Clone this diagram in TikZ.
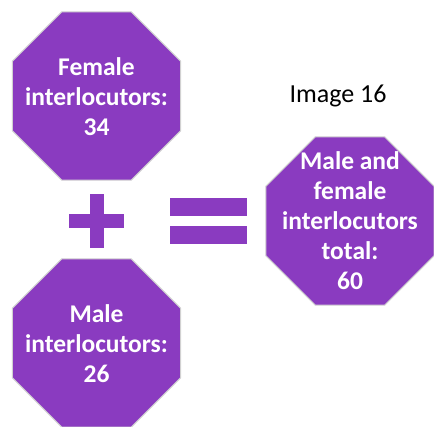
\documentclass[tikz,border=0pt]{standalone}
\usepackage{fontspec}
\setmainfont{Carlito}
\usetikzlibrary{shapes.geometric}
\definecolor{octpurple}{RGB}{138,59,192}

\begin{document}
\begin{tikzpicture}[
    x=1pt, y=-1pt,
    octa/.style={draw=black!18, line width=1pt, fill=octpurple, regular polygon, regular polygon sides=8, minimum size=182pt, inner sep=0pt},
    octtext/.style={align=center, text=white, font=\fontsize{25.5}{30}\selectfont\bfseries},
    bar/.style={fill=octpurple, rectangle, inner sep=0pt}
]
\useasboundingbox (0,0) rectangle (434,426);

% Octagons
\node[octa] (fem) at (96.5,96) {};
\node[octtext] (femtxt) at ([yshift=-1pt]fem.center) {Female\\interlocutors:\\34};

\node[octa] (mal) at (96.5,343) {};
\node[octtext] (maltxt) at ([yshift=-1pt]mal.center) {Male\\interlocutors:\\26};

\node[octa] (tot) at (350,221) {};
\node[octtext] (tottxt) at (tot.center) {Male and\\female\\interlocutors\\total:\\60};

% Plus sign
\node[bar, minimum width=55pt, minimum height=14pt] (plush) at (96.5,221) {};
\node[bar, minimum width=14pt, minimum height=54pt] (plusv) at (96.5,221) {};

% Equals sign
\node[bar, minimum width=77pt, minimum height=18pt] (eqtop) at (208.5,207) {};
\node[bar, minimum width=77pt, minimum height=18pt] (eqbot) at (208.5,235) {};

% Caption
\node[font=\fontsize{26}{30}\selectfont] (caption) at (338,96) {Image 16};

\end{tikzpicture}
\end{document}
